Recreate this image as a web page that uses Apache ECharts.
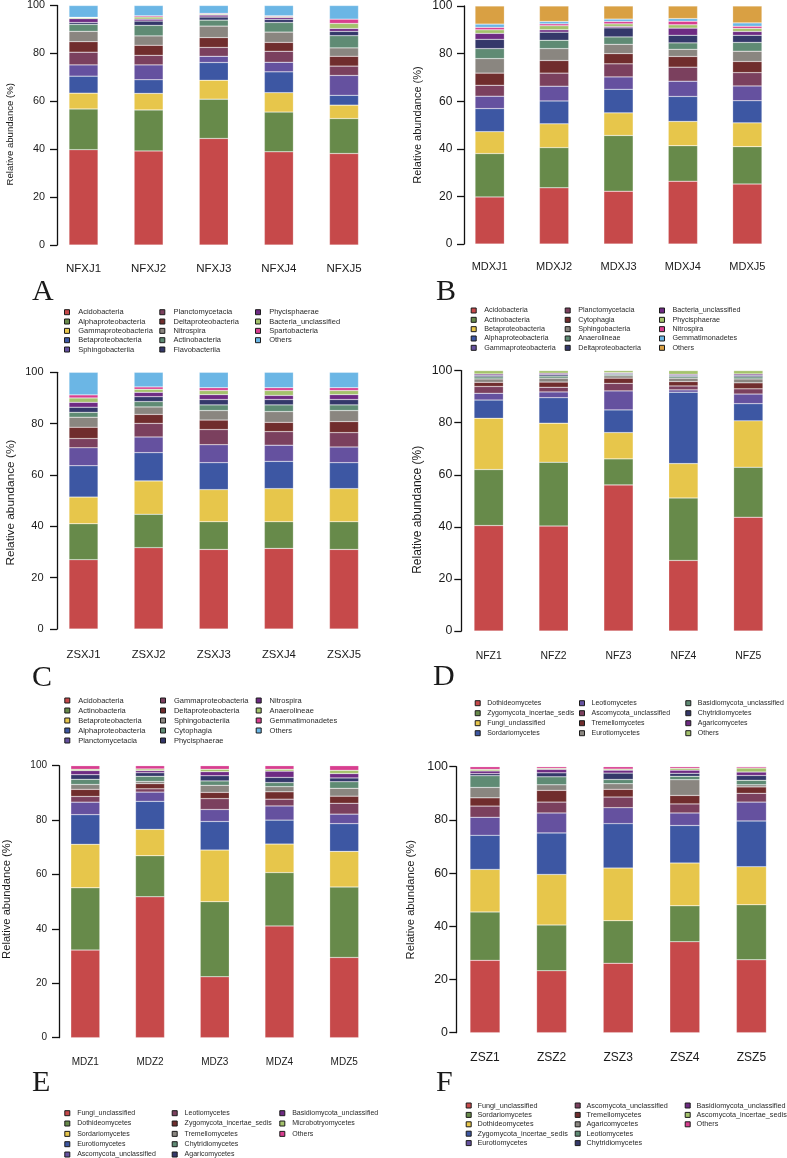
<!DOCTYPE html>
<html><head><meta charset="utf-8">
<script src="https://cdn.jsdelivr.net/npm/echarts@6/dist/echarts.min.js"></script>
<style>html,body{margin:0;padding:0;background:#fff}#c{width:787px;height:1158px}</style>
</head><body><div id="c"></div>
<script>
// ---------- DATA ----------
const palette = ['#C6494A','#678A4A','#E7C64B','#3D57A3','#65519F','#7B405E','#702D2D','#8A8680','#5F8B74','#34386A','#6E2B83','#A4C26C','#D83E8F','#6BB6E5','#D9A043'];

const catsA = ['NFXJ1','NFXJ2','NFXJ3','NFXJ4','NFXJ5'];
const taxaA = ['Acidobacteria','Alphaproteobacteria','Gammaproteobacteria','Betaproteobacteria','Sphingobacteriia','Planctomycetacia','Deltaproteobacteria','Nitrospira','Actinobacteria','Flavobacteriia','Phycisphaerae','Bacteria_unclassified','Spartobacteria','Others'];
const valsA = [
  [39.8,17.0,6.6,7.1,4.7,5.3,4.4,4.3,2.9,0.8,1.6,0.4,0.2,4.9],
  [39.3,17.1,6.9,5.7,6.2,4.0,4.2,3.9,4.4,1.8,0.8,0.9,0.5,4.3],
  [44.5,16.4,7.9,7.4,2.6,3.7,4.1,4.8,2.5,1.3,0.8,0.4,0.3,3.3],
  [38.9,16.6,8.1,8.7,4.0,4.6,3.7,4.3,4.0,1.3,0.8,0.4,0.3,4.3],
  [38.2,14.6,5.6,4.1,8.3,3.9,4.1,3.5,5.1,1.8,1.2,2.1,1.8,5.7]
];

const catsB = ['MDXJ1','MDXJ2','MDXJ3','MDXJ4','MDXJ5'];
const taxaB = ['Acidobacteria','Actinobacteria','Betaproteobacteria','Alphaproteobacteria','Gammaproteobacteria','Planctomycetacia','Cytophagia','Sphingobacteria','Anaerolineae','Deltaproteobacteria','Bacteria_unclassified','Phycisphaerae','Nitrospira','Gemmatimonadetes','Others'];
const valsB = [
  [19.8,18.2,9.2,9.7,5.2,4.6,5.1,6.1,4.2,3.9,2.5,1.5,1.0,1.4,7.6],
  [23.6,16.9,10.0,9.6,6.2,5.5,5.3,5.0,3.5,3.4,1.0,1.7,0.8,1.0,6.5],
  [22.2,23.4,9.5,9.9,5.2,5.5,4.3,3.9,3.1,3.8,0.6,1.1,1.0,1.0,5.5],
  [26.4,14.9,10.2,10.5,6.4,5.9,4.5,3.0,2.7,3.2,3.0,1.4,1.5,1.1,5.3],
  [25.2,15.7,10.0,9.3,6.2,5.6,4.7,4.3,3.7,3.0,1.6,1.3,0.9,1.4,7.1]
];

const catsC = ['ZSXJ1','ZSXJ2','ZSXJ3','ZSXJ4','ZSXJ5'];
const taxaC = ['Acidobacteria','Actinobacteria','Betaproteobacteria','Alphaproteobacteria','Planctomycetacia','Gammaproteobacteria','Deltaproteobacteria','Sphingobacteriia','Cytophagia','Phycisphaerae','Nitrospira','Anaerolineae','Gemmatimonadetes','Others'];
const valsC = [
  [27.0,14.0,10.4,12.2,7.0,3.6,4.4,3.9,1.9,2.0,1.9,1.7,1.2,8.8],
  [31.7,13.0,13.0,11.0,6.1,5.3,3.5,2.9,2.1,1.9,1.7,1.2,0.9,5.7],
  [31.0,10.8,12.5,10.5,7.0,5.9,3.7,3.7,2.2,2.1,1.9,1.6,1.1,6.0],
  [31.4,10.4,12.9,10.6,6.3,5.3,3.6,4.2,2.6,2.1,1.6,1.9,1.1,6.0],
  [31.0,10.8,12.9,10.1,6.1,5.6,4.3,4.3,2.2,2.1,1.9,1.6,1.1,6.0]
];

const catsD = ['NFZ1','NFZ2','NFZ3','NFZ4','NFZ5'];
const taxaD = ['Dothideomycetes','Zygomycota_incertae_sedis','Fungi_unclassified','Sordariomycetes','Leotiomycetes','Ascomycota_unclassified','Tremellomycetes','Eurotiomycetes','Basidiomycota_unclassified','Chytridiomycetes','Agaricomycetes','Others'];
const valsD = [
  [40.5,21.5,19.7,7.0,2.6,2.6,1.6,1.3,0.8,0.6,0.5,1.3],
  [40.3,24.5,15.0,9.8,2.2,1.8,2.0,1.5,0.8,0.6,0.5,1.0],
  [56.1,10.0,10.1,8.7,7.3,2.9,2.0,0.9,0.5,0.4,0.3,0.8],
  [27.1,24.0,13.2,27.4,0.9,1.5,1.7,1.3,0.6,0.5,0.4,1.4],
  [43.7,19.2,17.8,6.6,3.7,2.0,2.3,1.5,0.8,0.6,0.5,1.3]
];

const catsE = ['MDZ1','MDZ2','MDZ3','MDZ4','MDZ5'];
const taxaE = ['Fungi_unclassified','Dothideomycetes','Sordariomycetes','Eurotiomycetes','Ascomycota_unclassified','Leotiomycetes','Zygomycota_incertae_sedis','Tremellomycetes','Chytridiomycetes','Agaricomycetes','Basidiomycota_unclassified','Microbotryomycetes','Others'];
const valsE = [
  [32.2,22.9,16.0,10.9,4.6,2.1,2.6,1.8,1.9,1.7,1.5,0.5,1.3],
  [51.8,15.1,9.7,10.3,3.4,1.2,1.9,0.8,1.9,1.3,0.8,0.6,1.2],
  [22.4,27.6,19.0,10.5,4.4,4.0,2.3,2.6,1.6,1.9,1.5,0.9,1.3],
  [41.1,19.6,10.5,8.8,5.2,2.5,2.7,1.9,1.5,1.9,2.3,0.7,1.3],
  [29.5,25.9,13.1,10.2,3.5,4.0,2.6,2.9,2.4,1.4,1.6,1.2,1.7]
];

const catsF = ['ZSZ1','ZSZ2','ZSZ3','ZSZ4','ZSZ5'];
const taxaF = ['Fungi_unclassified','Sordariomycetes','Dothideomycetes','Zygomycota_incertae_sedis','Eurotiomycetes','Ascomycota_unclassified','Tremellomycetes','Agaricomycetes','Leotiomycetes','Chytridiomycetes','Basidiomycota_unclassified','Ascomycota_incertae_sedis','Others'];
const valsF = [
  [27.2,18.2,16.0,12.8,6.8,4.2,3.1,3.9,4.4,0.8,1.0,0.6,1.0],
  [23.3,17.2,19.0,15.6,7.5,4.1,4.4,2.1,3.0,1.5,1.3,0.4,0.6],
  [26.1,16.0,19.8,16.7,6.0,4.0,2.9,2.1,1.6,2.4,1.1,0.4,0.9],
  [34.2,13.5,16.1,14.1,4.7,3.4,3.2,5.9,1.3,1.1,1.2,0.7,0.6],
  [27.4,20.7,14.3,17.2,7.1,3.3,2.4,0.8,1.7,1.8,1.3,1.5,0.5]
];

const yTicks = [0,20,40,60,80,100];

// ---------- LAYOUT ----------
const FONT = '"Liberation Sans", Arial, sans-serif';
const panels = [
  {key:'A', cats:catsA, taxa:taxaA, vals:valsA, grid:{left:50.95, top:5, width:325.6, height:240}, axisX:57, barW:29,
   tickFs:10.8, tickMargin:12, catFs:11.5, catMargin:17.5, nameFs:9.6, nameGap:41.5, nameShift:18,
   letter:{x:32, y:292}, leg:{rows:5, markers:[64,159.3,255], pad:3.7, y0:310.7, dy:9.33, fs:7.5}},
  {key:'B', cats:catsB, taxa:taxaB, vals:valsB, grid:{left:457.5, top:4, width:322, height:240}, axisX:464, barW:29.3,
   tickFs:12, tickMargin:11.7, catFs:11, catMargin:17.5, nameFs:11, nameGap:40.5, nameShift:0,
   letter:{x:436, y:292}, leg:{rows:5, markers:[470.7,564.7,659], pad:3, y0:309, dy:9.33, fs:7.2}},
  {key:'C', cats:catsC, taxa:taxaC, vals:valsC, grid:{left:50.95, top:372.3, width:325.6, height:256.7}, axisX:57, barW:29,
   tickFs:11, tickMargin:13.5, catFs:11.3, catMargin:20.5, nameFs:11.8, nameGap:40.5, nameShift:4,
   letter:{x:32, y:678.5}, leg:{rows:5, markers:[64.3,160,255.7], pad:3.4, y0:699, dy:10, fs:7.5}},
  {key:'D', cats:catsD, taxa:taxaD, vals:valsD, grid:{left:456.25, top:370.6, width:324.5, height:260.4}, axisX:461.3, barW:29.3,
   tickFs:12.4, tickMargin:9, catFs:10.4, catMargin:19.7, nameFs:12, nameGap:38, nameShift:18,
   letter:{x:433, y:677.5}, leg:{rows:4, markers:[474.7,579,685.3], pad:2, y0:701.7, dy:10, fs:7.0}},
  {key:'E', cats:catsE, taxa:taxaE, vals:valsE, grid:{left:50.95, top:765.7, width:325.6, height:272}, axisX:57, barW:29,
   tickFs:10, tickMargin:12, catFs:10, catMargin:19.8, nameFs:11.2, nameGap:47, nameShift:-5,
   letter:{x:32, y:1083.5}, leg:{rows:5, markers:[64.3,171.7,279.3], pad:2.4, y0:1111.7, dy:10.33, fs:7.0}},
  {key:'F', cats:catsF, taxa:taxaF, vals:valsF, grid:{left:451.7, top:766.7, width:333, height:266}, axisX:456.3, barW:30,
   tickFs:12.4, tickMargin:8.3, catFs:12, catMargin:19.3, nameFs:11.2, nameGap:39.5, nameShift:0,
   letter:{x:436, y:1083.5}, leg:{rows:5, markers:[465.7,574.7,684.7], pad:1.3, y0:1104, dy:9.4, fs:7.25}}
];

const grid = [], xAxis = [], yAxis = [], series = [], legend = [], graphic = [];
panels.forEach((p, pi) => {
  grid.push(Object.assign({containLabel:false}, p.grid));
  xAxis.push({type:'category', gridIndex:pi, data:p.cats,
    axisLine:{show:false}, axisTick:{show:false},
    axisLabel:{fontFamily:FONT, fontSize:p.catFs, color:'#1a1a1a', margin:p.catMargin}});
  yAxis.push({type:'value', gridIndex:pi, min:yTicks[0], max:yTicks[yTicks.length-1], interval:20,
    offset:p.grid.left - p.axisX,
    axisLine:{show:true, lineStyle:{color:'#111', width:1.3}},
    axisTick:{show:true, length:7, lineStyle:{color:'#111', width:1.3}},
    splitLine:{show:false},
    axisLabel:{fontFamily:FONT, fontSize:p.tickFs, color:'#1a1a1a', margin:p.tickMargin},
    name:'Relative abundance (%)', nameLocation:'middle', nameGap:p.nameGap,
    nameTextStyle:{fontFamily:FONT, fontSize:p.nameFs, color:'#1a1a1a',
      padding: p.nameShift >= 0 ? [0, p.nameShift, 0, 0] : [0, 0, 0, -p.nameShift]}});
  p.taxa.forEach((t, ti) => {
    series.push({type:'bar', name:p.key + '|' + t, stack:'s' + p.key, xAxisIndex:pi, yAxisIndex:pi,
      barWidth:p.barW, data:p.vals.map(r => r[ti]),
      itemStyle:{color:palette[ti], borderColor:'rgba(255,255,255,0.45)', borderWidth:0.5}});
  });
  const L = p.leg;
  for (let c = 0; c < 3; c++) {
    const names = p.taxa.slice(c * L.rows, (c + 1) * L.rows).map(t => p.key + '|' + t);
    if (!names.length) continue;
    legend.push({orient:'vertical', left:L.markers[c], top:L.y0 - 2.5, height:120, padding:0,
      itemGap:L.dy - 8, itemWidth:5, itemHeight:5, icon:'rect', selectedMode:false,
      data:names, formatter: n => n.split('|')[1],
      itemStyle:{borderColor:'#1a1a1a', borderWidth:1},
      textStyle:{fontFamily:FONT, fontSize:L.fs, color:'#2a2a2a', lineHeight:8, padding:[0,0,0,L.pad]}});
  }
  graphic.push({type:'text', x:p.letter.x, y:p.letter.y,
    style:{text:p.key, font:'30px "Liberation Serif", "DejaVu Serif", serif', fill:'#1a1a1a', verticalAlign:'middle', align:'left'}});
});

const chart = echarts.init(document.getElementById('c'), null, {renderer:'canvas'});
chart.setOption({animation:false, backgroundColor:'#fff', grid, xAxis, yAxis, series, legend, graphic});
</script>
</body></html>
